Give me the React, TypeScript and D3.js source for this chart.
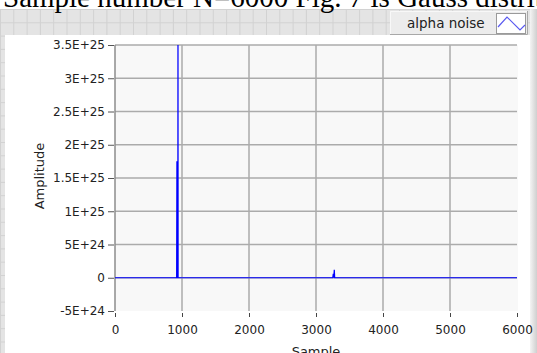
import { useEffect, useRef } from "react";
import * as d3 from "d3";

// samples where the trace leaves zero
const sampleIdx = [0, 920, 924, 928, 938, 940, 942, 3250, 3258, 3265, 3273, 3279, 6000];
const amplitude = [0, 0, 1.75e25, 0, 0, 4.2e25, 0, 0, 0.6e24, 0, 1.2e24, 0, 0];

const xTicks = [0, 1000, 2000, 3000, 4000, 5000, 6000];
const yTicks = [-5e24, 0, 5e24, 1e25, 1.5e25, 2e25, 2.5e25, 3e25, 3.5e25];
const yTickLabels = ["-5E+24", "0", "5E+24", "1E+25", "1.5E+25", "2E+25", "2.5E+25", "3E+25", "3.5E+25"];

const seriesName = "alpha noise";
const titleText = "Sample number N=6000 Fig. 7 is Gauss distribution";

const W = 537;
const H = 353;
const FONT = "'DejaVu Sans', sans-serif";

const App = () => {
  const svgRef = useRef<SVGSVGElement | null>(null);

  useEffect(() => {
    if (!svgRef.current) return;
    const svg = d3.select(svgRef.current);
    svg.selectAll("*").remove();

    const plot = { left: 115, right: 517, top: 45, bottom: 311 };

    const x = d3.scaleLinear().domain([0, 6000]).range([plot.left, plot.right]);
    const y = d3.scaleLinear().domain([-5e24, 3.5e25]).range([plot.bottom, plot.top]);

    // labview panel grid background
    svg.append("rect").attr("width", W).attr("height", H).attr("fill", "#e4e4e4");
    const cell = 13.3;
    const bg = svg.append("g").attr("stroke", "#d2d2d2").attr("stroke-width", 1);
    d3.range(0, W, cell).forEach((v) => {
      bg.append("line").attr("x1", v + 0.5).attr("x2", v + 0.5).attr("y1", 0).attr("y2", H);
    });
    d3.range(9, H, cell).forEach((v) => {
      bg.append("line").attr("x1", 0).attr("x2", W).attr("y1", v + 0.5).attr("y2", v + 0.5);
    });
    svg.append("rect").attr("width", W).attr("height", 9).attr("fill", "#fff");

    // right edge strip
    const grad = svg.append("defs").append("linearGradient").attr("id", "edge");
    grad.append("stop").attr("offset", "0%").attr("stop-color", "#f4f4f4");
    grad.append("stop").attr("offset", "100%").attr("stop-color", "#cfcfcf");
    svg.append("rect").attr("x", 530).attr("y", 9).attr("width", 7).attr("height", H).attr("fill", "url(#edge)");

    // white graph panel
    svg.append("rect").attr("x", 5).attr("y", 35).attr("width", 525).attr("height", H - 35).attr("fill", "#fff");

    // title (cut off at the top)
    svg.append("text")
      .attr("x", 3)
      .attr("y", 7)
      .attr("font-family", "'Liberation Serif', serif")
      .attr("font-size", 29)
      .attr("fill", "#000")
      .text(titleText);

    // plot area
    svg.append("rect")
      .attr("x", plot.left).attr("y", plot.top)
      .attr("width", plot.right - plot.left + 1).attr("height", plot.bottom - plot.top)
      .attr("fill", "#f8f8f8");

    const grid = svg.append("g").attr("stroke", "#ababab").attr("stroke-width", 1.5);
    yTicks.filter((t) => t >= 0).forEach((t) => {
      grid.append("line").attr("x1", plot.left).attr("x2", plot.right).attr("y1", y(t)).attr("y2", y(t));
    });
    xTicks.filter((t) => t > 0 && t < 6000).forEach((t) => {
      grid.append("line").attr("x1", x(t)).attr("x2", x(t)).attr("y1", plot.top).attr("y2", plot.bottom);
    });
    svg.append("line")
      .attr("x1", plot.left).attr("x2", plot.left)
      .attr("y1", plot.top).attr("y2", plot.bottom)
      .attr("stroke", "#8c8c8c").attr("stroke-width", 1.5);

    // trace
    svg.append("clipPath").attr("id", "plotclip").append("rect")
      .attr("x", plot.left).attr("y", plot.top)
      .attr("width", plot.right - plot.left).attr("height", plot.bottom - plot.top);

    const pts = sampleIdx.map((s, i) => [s, amplitude[i]] as [number, number]);
    const line = d3.line<[number, number]>().x((d) => x(d[0])).y((d) => y(d[1]));
    svg.append("path")
      .datum(pts)
      .attr("clip-path", "url(#plotclip)")
      .attr("fill", "none")
      .attr("stroke", "#0000ff")
      .attr("stroke-width", 1.2)
      .attr("d", line);

    // axes
    const yAxis = d3.axisLeft(y)
      .tickValues(yTicks)
      .tickSize(6)
      .tickPadding(3)
      .tickFormat((_, i) => yTickLabels[i]);
    svg.append("g")
      .attr("transform", `translate(${plot.left - 1}, 0)`)
      .call(yAxis)
      .call((a) => a.select(".domain").remove())
      .call((a) => a.selectAll("line").attr("stroke", "#555"))
      .call((a) => a.selectAll("text").attr("fill", "#222").attr("font-size", 12).attr("font-family", FONT));

    const xAxis = d3.axisBottom(x).tickValues(xTicks).tickSize(4).tickPadding(8).tickFormat(d3.format("d"));
    svg.append("g")
      .attr("transform", `translate(0, ${plot.bottom + 2})`)
      .call(xAxis)
      .call((a) => a.select(".domain").remove())
      .call((a) => a.selectAll("line").attr("stroke", "#444"))
      .call((a) => a.selectAll("text").attr("fill", "#222").attr("font-size", 12).attr("font-family", FONT));

    svg.append("text")
      .attr("transform", `translate(44, 176) rotate(-90)`)
      .attr("text-anchor", "middle")
      .attr("font-family", FONT)
      .attr("font-size", 13)
      .attr("fill", "#222")
      .text("Amplitude");

    svg.append("text")
      .attr("x", 316)
      .attr("y", 356)
      .attr("text-anchor", "middle")
      .attr("font-family", FONT)
      .attr("font-size", 13)
      .attr("fill", "#222")
      .text("Sample");

    // legend
    const lg = svg.append("g");
    lg.append("rect").attr("x", 390).attr("y", 11).attr("width", 138).attr("height", 24).attr("fill", "#ececec");
    lg.append("path").attr("d", "M390.5,35 V11.5 H528").attr("fill", "none").attr("stroke", "#f8f8f8");
    lg.append("path").attr("d", "M390,34.5 H527.5 V11").attr("fill", "none").attr("stroke", "#a8a8a8");
    lg.append("text")
      .attr("x", 407).attr("y", 28)
      .attr("font-family", FONT).attr("font-size", 13.5).attr("fill", "#222")
      .text(seriesName);
    lg.append("rect").attr("x", 496.5).attr("y", 13.5).attr("width", 29).attr("height", 20)
      .attr("fill", "#fff").attr("stroke", "#9a9a9a");
    lg.append("path")
      .attr("d", "M498,27 L507,17 L520,30 L525,25")
      .attr("fill", "none").attr("stroke", "#5a5af0").attr("stroke-width", 1.2);
  }, []);

  return (
    <svg
      ref={svgRef}
      width={W}
      height={H}
      style={{ position: "absolute", left: 0, top: 0, display: "block" }}
    />
  );
};

export default App;
